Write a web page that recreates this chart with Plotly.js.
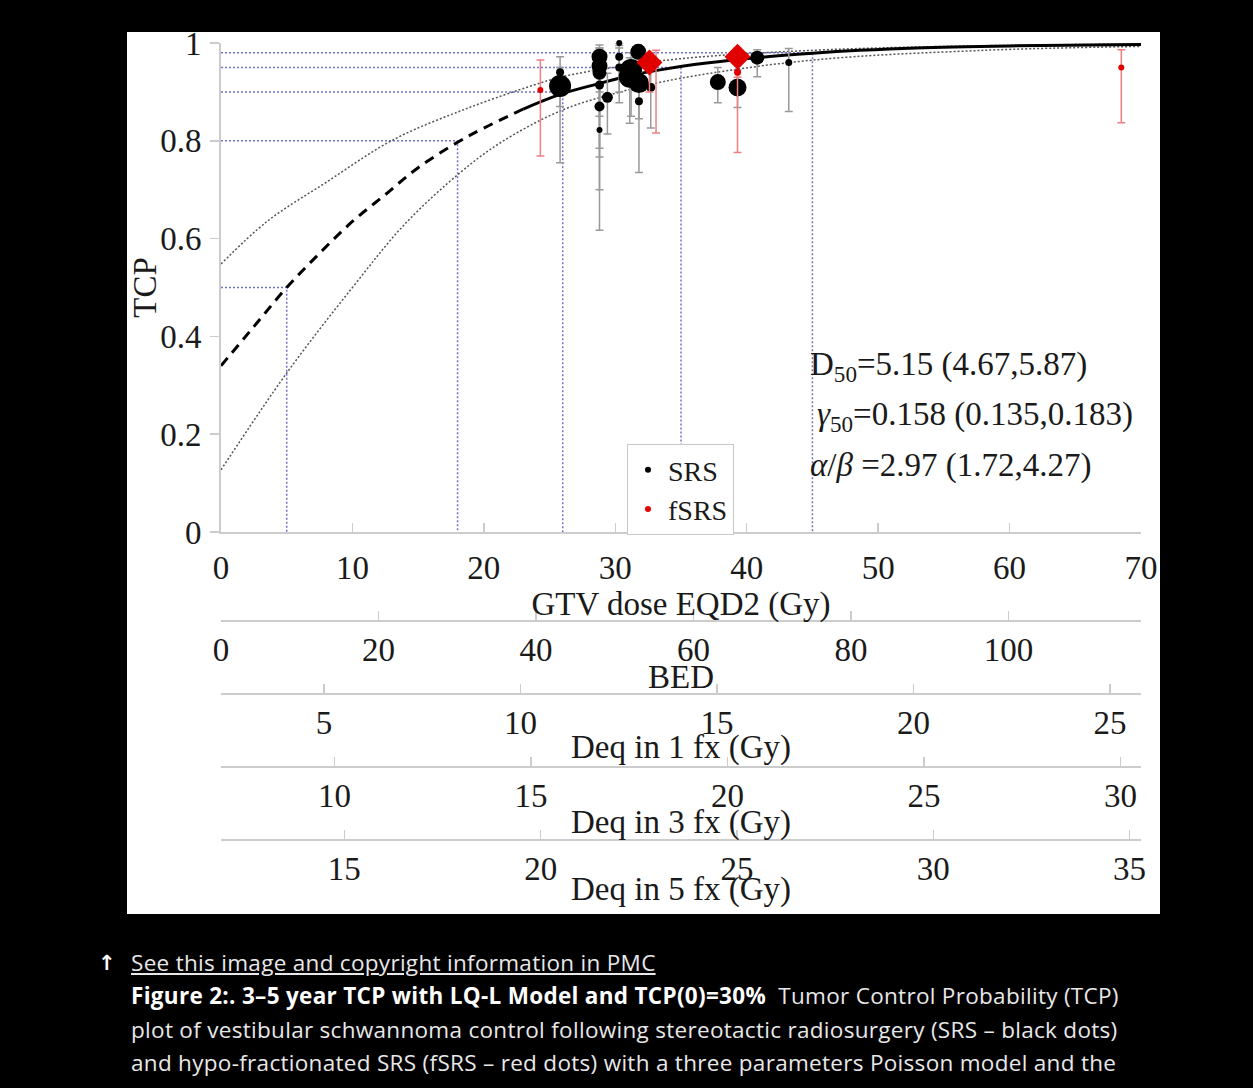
<!DOCTYPE html>
<html><head><meta charset="utf-8">
<script src="https://cdn.plot.ly/plotly-3.0.1.min.js"></script>
<style>
html,body{margin:0;padding:0;background:#000;width:1253px;height:1088px;overflow:hidden}
#paperbg{position:absolute;left:127px;top:32px;width:1033px;height:882px;background:#fff}
#chart{position:absolute;left:127px;top:0px;width:1033px;height:914px}
.cap{position:absolute;left:131px;color:#e8e8e8;font-family:"Open Sans",sans-serif;font-size:22.5px;letter-spacing:0.3px;line-height:34px;white-space:nowrap}
.cap b{color:#fff}
.cap a{color:#e8e8e8;text-decoration:underline}
.arrow{position:absolute;left:98px;top:946px;color:#fff;font-family:"DejaVu Sans",sans-serif;font-size:21px;font-weight:bold;line-height:34px}
</style></head><body>
<div id="paperbg"></div>
<div id="chart"></div>
<div class="arrow">↑</div>
<div class="cap" style="top:946px"><a>See this image and copyright information in PMC</a></div>
<div class="cap" style="top:979px"><b>Figure 2:. 3–5 year TCP with LQ-L Model and TCP(0)=30%</b>&nbsp;&nbsp;Tumor Control Probability (TCP)</div>
<div class="cap" style="top:1013px">plot of vestibular schwannoma control following stereotactic radiosurgery (SRS – black dots)</div>
<div class="cap" style="top:1046px">and hypo-fractionated SRS (fSRS – red dots) with a three parameters Poisson model and the</div>
<script>
// ---- tick values ----
const eqd2Ticks = [0,10,20,30,40,50,60,70];
const tcpTicks = [0,0.2,0.4,0.6,0.8,1];
const tcpTickText = ['0','0.2','0.4','0.6','0.8','1'];
const bedTicks = [0,20,40,60,80,100];
const deq1Ticks = [5,10,15,20,25];
const deq3Ticks = [10,15,20,25,30];
const deq5Ticks = [15,20,25,30,35];

// ---- model curve ----
const fitDashX = [0,2.5,5,7.5,10,12.5,15,18,20,23];
const fitDashY = [0.34,0.42,0.50,0.57,0.635,0.69,0.745,0.797,0.826,0.865];
const fitSolidX = [23,25.8,28.6,31.1,33.4,36,40.3,45,48.6,52.9,60,70];
const fitSolidY = [0.865,0.895,0.916,0.933,0.945,0.956,0.969,0.979,0.985,0.990,0.994,0.997];
const ciUpX = [0,3.5,8,13.1,18.7,23.8,25.8,28.7,35,45,55,70];
const ciUpY = [0.548,0.635,0.715,0.802,0.866,0.914,0.93,0.945,0.968,0.985,0.993,0.998];
const ciLoX = [0,5,10,14,18.2,21.2,25.9,30.4,35,45,58,70];
const ciLoY = [0.127,0.325,0.50,0.63,0.735,0.795,0.862,0.90,0.928,0.965,0.985,0.993];

// ---- reference levels ----
const refDose = [5,18,26,35,45];
const refTcp = [0.5,0.8,0.9,0.95,0.98];

// ---- SRS data ----
const srsX  = [25.8,25.8,28.8,28.8,28.8,28.8,28.8,28.8,29.4,30.3,30.3,30.3,31.2,31.1,31.75,31.8,31.8,32.7,37.8,39.3,40.8,43.2];
const srsY  = [0.912,0.940,0.972,0.953,0.939,0.914,0.870,0.822,0.889,1.0,0.972,0.950,0.945,0.931,0.982,0.918,0.881,0.909,0.920,0.909,0.970,0.960];
const srsLo = [0.87,0.755,0.90,0.85,0.785,0.617,0.767,0.70,0.814,0.95,0.90,0.878,0.85,0.836,0.94,0.845,0.735,0.826,0.878,0.868,0.931,0.860];
const srsHi = [0.95,0.972,0.996,0.99,0.985,0.99,0.95,0.93,0.938,1.0,0.995,0.99,0.98,0.97,0.995,0.96,0.95,0.945,0.950,0.945,0.986,0.989];
const srsN  = [22,8,16,16,14,9,10,6,11,6,8,8,22,22,16,20,8,9,16,18,14,7];

// ---- fSRS data ----
const fsrsX  = [24.3,32.6,33.1,39.3,39.3,68.5];
const fsrsY  = [0.904,0.960,0.955,0.972,0.940,0.950];
const fsrsLo = [0.769,0.90,0.816,0.93,0.776,0.837];
const fsrsHi = [0.965,0.98,0.985,0.99,0.986,0.986];
const fsrsN  = [6,20,5,20,7,6];
const fsrsSym = ['circle','diamond','circle','diamond','circle','circle'];

const serif = '"Liberation Serif","Times New Roman",serif';
const FS = 33;
const ink = '#1a1a1a';
const axisGrey = '#cccccc';

// reference L-shaped guide lines
const refXs = [], refYs = [];
refDose.forEach((d,i)=>{ refXs.push(0,d,d,null); refYs.push(refTcp[i],refTcp[i],0,null); });

const traces = [
  {x:refXs,y:refYs,mode:'lines',line:{color:'#7070d0',width:1.5,dash:'2px,2px'},showlegend:false,hoverinfo:'skip'},
  {x:ciLoX,y:ciLoY,mode:'lines',line:{color:'#555',width:1.5,dash:'2px,2px',shape:'spline'},showlegend:false},
  {x:ciUpX,y:ciUpY,mode:'lines',line:{color:'#555',width:1.5,dash:'2px,2px',shape:'spline'},showlegend:false},
  {x:fitDashX,y:fitDashY,mode:'lines',line:{color:'#000',width:3,dash:'10px,7px',shape:'spline'},showlegend:false},
  {x:fitSolidX,y:fitSolidY,mode:'lines',line:{color:'#000',width:3,shape:'spline'},showlegend:false},
  {x:srsX,y:srsY,mode:'markers',name:'SRS',showlegend:false,cliponaxis:false,
   marker:{color:'#000',size:srsN,opacity:1,line:{width:0}},
   error_y:{type:'data',symmetric:false,array:srsHi.map((h,i)=>h-srsY[i]),arrayminus:srsLo.map((l,i)=>srsY[i]-l),color:'#999',thickness:1.5,width:4}},
  {x:fsrsX,y:fsrsY,mode:'markers',name:'fSRS',showlegend:false,cliponaxis:false,
   marker:{color:'#e00000',size:fsrsN,symbol:fsrsSym,opacity:1,line:{width:0}},
   error_y:{type:'data',symmetric:false,array:fsrsHi.map((h,i)=>h-fsrsY[i]),arrayminus:fsrsLo.map((l,i)=>fsrsY[i]-l),color:'#f08080',thickness:1.5,width:4}},
  {x:[null],y:[null],mode:'markers',name:'SRS',marker:{color:'#000',size:6}},
  {x:[null],y:[null],mode:'markers',name:'fSRS',marker:{color:'#e00000',size:6}},
  {x:[],y:[],xaxis:'x2',yaxis:'y',showlegend:false},
  {x:[],y:[],xaxis:'x3',yaxis:'y',showlegend:false},
  {x:[],y:[],xaxis:'x4',yaxis:'y',showlegend:false},
  {x:[],y:[],xaxis:'x5',yaxis:'y',showlegend:false}
];

function secAxis(range, ticks, pos){
  return {overlaying:'x',anchor:'free',position:pos,side:'bottom',range:range,
    tickmode:'array',tickvals:ticks,ticktext:ticks.map(String),
    ticks:'inside',ticklen:9,tickcolor:axisGrey,tickwidth:1.5,
    showline:true,linecolor:axisGrey,linewidth:2,showgrid:false,zeroline:false,
    tickfont:{family:serif,size:FS,color:ink},ticklabelstandoff:-1,ticklabeloverflow:'allow'};
}

function axTitle(text, py){
  return {xref:'paper',yref:'paper',x:0.5,y:py,xanchor:'center',yanchor:'middle',showarrow:false,
    text:text,font:{family:serif,size:FS,color:ink}};
}

const layout = {
  width:1033,height:914,
  margin:{l:94,r:19,t:43,b:0},
  paper_bgcolor:'rgba(0,0,0,0)',plot_bgcolor:'#fff',
  showlegend:true,
  legend:{x:0.4413,y:0.5396,xanchor:'left',yanchor:'top',bordercolor:'#c8c8c8',borderwidth:1,
    bgcolor:'#fff',font:{family:serif,size:28,color:ink},itemwidth:30,tracegroupgap:0},
  xaxis:{range:[0,70],tickmode:'array',tickvals:eqd2Ticks,ticktext:eqd2Ticks.map(String),
    ticks:'inside',ticklen:9,tickcolor:axisGrey,tickwidth:1.5,
    showline:true,linecolor:axisGrey,linewidth:2,showgrid:false,zeroline:false,anchor:'y',
    tickfont:{family:serif,size:FS,color:ink},ticklabelstandoff:5,ticklabeloverflow:'allow',
    title:{text:'GTV dose EQD2 (Gy)',font:{family:serif,size:FS,color:ink},standoff:0}},
  xaxis2:secAxis([0,116.84],bedTicks,0.33639),
  xaxis3:secAxis([2.38,25.79],deq1Ticks,0.25201),
  xaxis4:secAxis([7.112,30.524],deq3Ticks,0.16820),
  xaxis5:secAxis([11.858,35.29],deq5Ticks,0.08439),
  yaxis:{domain:[0.43858,1],range:[0,1],tickmode:'array',tickvals:tcpTicks,ticktext:tcpTickText,
    ticks:'outside',ticklen:9,tickcolor:axisGrey,tickwidth:1.5,
    showline:true,linecolor:axisGrey,linewidth:2,showgrid:false,zeroline:false,
    tickfont:{family:serif,size:FS,color:ink},ticklabelstandoff:2,ticklabeloverflow:'allow',
    title:{text:'TCP',font:{family:serif,size:FS,color:ink},standoff:8}},
  annotations:[
    {xref:'x',yref:'y',x:44.66,y:0.339,xanchor:'left',yanchor:'middle',showarrow:false,
     text:'D<sub>50</sub>=5.15 (4.67,5.87)',font:{family:serif,size:FS,color:ink}},
    {xref:'x',yref:'y',x:45.2,y:0.237,xanchor:'left',yanchor:'middle',showarrow:false,
     text:'<i>γ</i><sub>50</sub>=0.158 (0.135,0.183)',font:{family:serif,size:FS,color:ink}},
    {xref:'x',yref:'y',x:44.66,y:0.137,xanchor:'left',yanchor:'middle',showarrow:false,
     text:'<i>α</i>/<i>β</i> =2.97 (1.72,4.27)',font:{family:serif,size:FS,color:ink}},
    axTitle('BED',0.2721),
    axTitle('Deq in 1 fx (Gy)',0.1906),
    axTitle('Deq in 3 fx (Gy)',0.1056),
    axTitle('Deq in 5 fx (Gy)',0.0276)
  ]
};

Plotly.newPlot('chart',traces,layout,{displayModeBar:false,staticPlot:true});
</script>
</body></html>
